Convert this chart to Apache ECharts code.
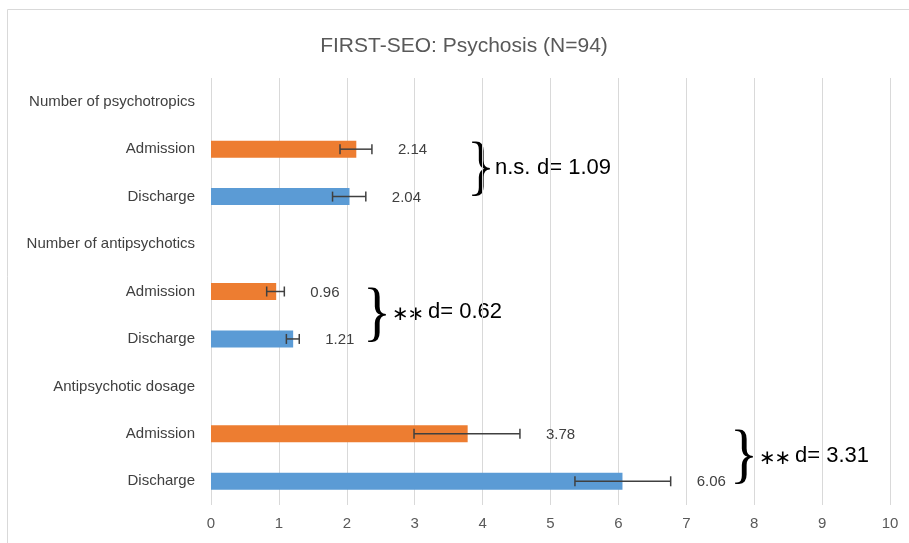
<!DOCTYPE html>
<html>
<head>
<meta charset="utf-8">
<script src="https://cdn.jsdelivr.net/npm/echarts@6/dist/echarts.min.js"></script>
<style>
  html,body{margin:0;padding:0;background:#fff}
  #main{width:909px;height:543px}
</style>
</head>
<body>
<div id="main"></div>
<script>
// FIRST-SEO psychosis chart
var categories = ['Number of psychotropics','Admission','Discharge',
                  'Number of antipsychotics','Admission','Discharge',
                  'Antipsychotic dosage','Admission','Discharge']
var means   = [null, 2.14, 2.04, null, 0.96, 1.21, null, 3.78, 6.06]
var errLow  = [null, 1.90, 1.79, null, 0.82, 1.11, null, 2.99, 5.36]
var errHigh = [null, 2.37, 2.28, null, 1.08, 1.30, null, 4.55, 6.77]
var xTicks  = [0,1,2,3,4,5,6,7,8,9,10]
var notes = [
  {sig:'n.s.', d:'d= 1.09', brace:[481,170], at:[495,168]},
  {sig:'**',   d:'d= 0.62', brace:[377,316], at:[394,312]},
  {sig:'**',   d:'d= 3.31', brace:[744,458], at:[761,456]}
]

var ORANGE = '#ED7D31'
var BLUE = '#5B9BD5'
var FONT = 'Liberation Sans'

var chart = echarts.init(document.getElementById('main'), null, {renderer:'canvas'})

var errData = []
for (var i = 0; i < categories.length; i++) {
  if (means[i] != null) errData.push([i, errLow[i], errHigh[i], means[i]])
}

var graphics = [
  {type:'rect', shape:{x:7.5, y:9.5, width:910, height:540},
   style:{fill:'none', stroke:'#d9d9d9', lineWidth:1}, silent:true}
]
notes.forEach(function(n){
  graphics.push({type:'text', x:n.brace[0], y:n.brace[1], scaleX:0.9,
    style:{text:'}', font:'66px "Liberation Serif"', fill:'#000',
           align:'center', verticalAlign:'middle'}})
  var isNs = n.sig === 'n.s.'
  if (isNs) {
    graphics.push({type:'text', x:n.at[0], y:n.at[1],
      style:{text:n.sig, font:'22px ' + FONT, fill:'#000', align:'left', verticalAlign:'middle'}})
  } else {
    // two asterisks drawn one by one so they sit close together
    [6.5, 22].forEach(function(dx){
      graphics.push({type:'text', x:n.at[0] + dx, y:n.at[1] + 3,
        style:{text:'∗', font:'20px "DejaVu Sans"', fill:'#000', align:'center', verticalAlign:'middle'}})
    })
  }
  graphics.push({type:'text', x:n.at[0] + (isNs ? 42 : 34), y:n.at[1],
    style:{text:n.d, font:'22px ' + FONT, fill:'#000',
           align:'left', verticalAlign:'middle'}})
})

chart.setOption({
  animation:false,
  title:{
    text:'FIRST-SEO: Psychosis (N=94)',
    left:459, top:31, textAlign:'center',
    textStyle:{fontFamily:FONT, fontSize:21, fontWeight:'normal', color:'#595959'}
  },
  grid:{left:211, right:19, top:78, bottom:38},
  xAxis:{
    type:'value', min:0, max:10, interval:1,
    axisLine:{show:false}, axisTick:{show:false},
    splitLine:{lineStyle:{color:'#d9d9d9', width:1}},
    axisLabel:{color:'#595959', fontFamily:FONT, fontSize:15, margin:11,
      formatter:function(v){ return xTicks.indexOf(v) >= 0 ? String(v) : '' }}
  },
  yAxis:{
    type:'category', data:categories, inverse:true,
    axisLine:{show:false}, axisTick:{show:false},
    axisLabel:{color:'#404040', fontFamily:FONT, fontSize:15, margin:16, interval:0}
  },
  series:[
    {
      type:'bar', data:means, barWidth:17,
      itemStyle:{color:function(p){ return categories[p.dataIndex] === 'Admission' ? ORANGE : BLUE }}
    },
    {
      type:'custom', data:errData,
      encode:{x:[1,2], y:0},
      z:5,
      renderItem:function(params, api){
        var y = api.value(0)
        var lo = api.coord([api.value(1), y])
        var hi = api.coord([api.value(2), y])
        var h = 5
        var c = '#404040'
        return {type:'group', children:[
          {type:'line', shape:{x1:lo[0], y1:lo[1], x2:hi[0], y2:hi[1]}, style:{stroke:c, lineWidth:1.5}},
          {type:'line', shape:{x1:lo[0], y1:lo[1]-h, x2:lo[0], y2:lo[1]+h}, style:{stroke:c, lineWidth:1.5}},
          {type:'line', shape:{x1:hi[0], y1:hi[1]-h, x2:hi[0], y2:hi[1]+h}, style:{stroke:c, lineWidth:1.5}},
          {type:'text', x:hi[0] + 26, y:hi[1] + 1,
           style:{text:api.value(3).toFixed(2), fill:'#404040', font:'15px ' + FONT,
                  align:'left', verticalAlign:'middle'}}
        ]}
      }
    }
  ],
  graphic:graphics
})
</script>
</body>
</html>
